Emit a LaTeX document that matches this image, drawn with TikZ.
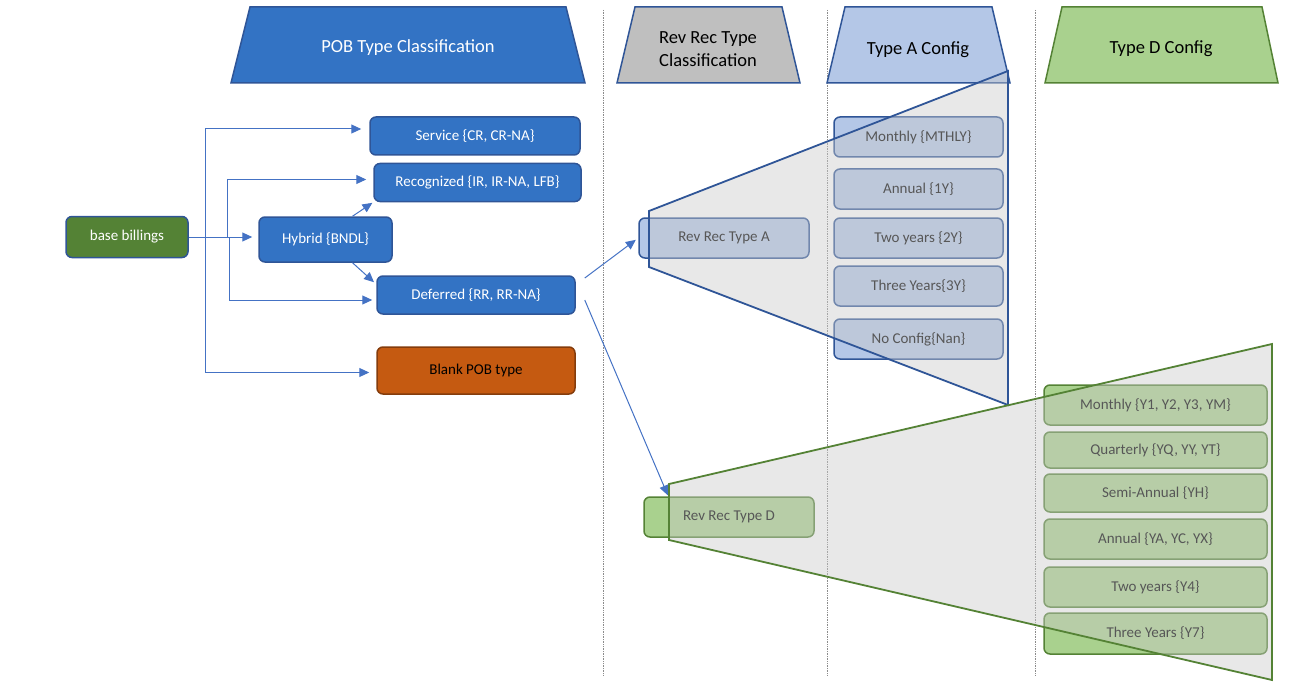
\documentclass[tikz,border=0pt]{standalone}
\usepackage{fontspec}
\setmainfont{Carlito}
\usetikzlibrary{
    arrows.meta,
    positioning,
    calc
}

\definecolor{pobblue}{RGB}{51,115,196}
\definecolor{pobedge}{RGB}{47,85,151}
\definecolor{linkblue}{RGB}{68,114,196}
\definecolor{cfgblue}{RGB}{180,199,231}
\definecolor{cfggreen}{RGB}{169,209,142}
\definecolor{greenedge}{RGB}{84,130,53}
\definecolor{blankfill}{RGB}{197,90,17}
\definecolor{blankedge}{RGB}{132,60,12}
\definecolor{headgray}{RGB}{191,191,191}
\definecolor{zoomgray}{RGB}{202,202,202}

\begin{document}
\begin{tikzpicture}[
    x=1pt, y=-1pt,
    box/.style={
      draw,
      rounded corners=6pt,
      line width=1.5pt,
      inner sep=0pt,
      align=center,
      font=\fontsize{15}{18}\selectfont
    },
    pobbox/.style={box, fill=pobblue, draw=pobedge, text=white},
    cfga/.style={box, fill=cfgblue, draw=pobedge,
      minimum width=169pt, minimum height=40pt},
    cfgd/.style={box, fill=cfggreen, draw=greenedge,
      minimum width=223pt, minimum height=40pt},
    header/.style={draw=pobedge, line width=1.5pt},
    headtext/.style={align=center, font=\fontsize{18.5}{23}\selectfont},
    link/.style={
      draw=linkblue,
      line width=1pt,
      -{Triangle[length=10pt,width=9pt]}
    },
    zoom/.style={line width=1.8pt, fill=zoomgray, fill opacity=0.43},
    sep/.style={densely dotted, black!45, line width=0.7pt}
  ]

  \useasboundingbox (0,0) rectangle (1296,698);

  % column separators {{{
  \draw[sep] (603,10) -- (603,676);
  \draw[sep] (827,10) -- (827,676);
  \draw[sep] (1035,10) -- (1035,676);
  % }}}

  % headers {{{
  \draw[header, fill=pobblue] (250,7) -- (566,7) -- (585,83) -- (231,83) -- cycle;
  \node[headtext, text=white] (pobhead) at (408,48) {POB Type Classification};

  \draw[header, fill=headgray] (635,7) -- (782,7) -- (800,83) -- (617,83) -- cycle;
  \node[headtext] (revhead) at (708,49) {Rev Rec Type\\Classification};

  \draw[header, fill=cfgblue] (845,7) -- (992,7) -- (1010,83) -- (827,83) -- cycle;
  \node[headtext] (ahead) at (918,50) {Type A Config};

  \draw[header, draw=greenedge, fill=cfggreen]
    (1062,7) -- (1262,7) -- (1278,83) -- (1045,83) -- cycle;
  \node[headtext] (dhead) at (1161,49) {Type D Config};
  % }}}

  % POB types {{{
  \node[
    box,
    fill=greenedge,
    draw=pobedge,
    text=white,
    minimum width=122pt,
    minimum height=41pt
  ] (base) at (127,237) {base billings};

  \node[pobbox, minimum width=133pt, minimum height=45pt]
    (hybrid) at (325.5,239.5) {Hybrid {\{}BNDL{\}}};
  \node[pobbox, minimum width=210pt, minimum height=38pt]
    (service) at (475,136) {Service {\{}CR, CR-NA{\}}};
  \node[pobbox, minimum width=207pt, minimum height=38pt]
    (recog) at (477.5,182.5) {Recognized {\{}IR, IR-NA, LFB{\}}};
  \node[pobbox, minimum width=198pt, minimum height=38pt]
    (deferred) at (476,295) {Deferred {\{}RR, RR-NA{\}}};
  \node[
    box,
    fill=blankfill,
    draw=blankedge,
    minimum width=198pt,
    minimum height=47pt
  ] (blank) at (476,370.5) {Blank POB type};
  % }}}

  % rev rec types {{{
  \node[cfga, minimum width=170pt] (reva) at (724,238) {Rev Rec Type A};
  \node[cfgd, minimum width=170pt] (revd) at (729,517) {Rev Rec Type D};
  % }}}

  % type A config {{{
  \node[cfga] (amonthly) at (918.5,137) {Monthly {\{}MTHLY{\}}};
  \node[cfga] (aannual) at (918.5,189) {Annual {\{}1Y{\}}};
  \node[cfga] (atwo) at (918.5,238) {Two years {\{}2Y{\}}};
  \node[cfga] (athree) at (918.5,286) {Three Years{\{}3Y{\}}};
  \node[cfga] (anone) at (918.5,339) {No Config{\{}Nan{\}}};
  % }}}

  % type D config {{{
  \node[cfgd] (dmonthly) at (1155.5,405) {Monthly {\{}Y1, Y2, Y3, YM{\}}};
  \node[cfgd, minimum height=36pt] (dquarter) at (1155.5,450)
    {Quarterly {\{}YQ, YY, YT{\}}};
  \node[cfgd, minimum height=38pt] (dsemi) at (1155.5,493)
    {Semi-Annual {\{}YH{\}}};
  \node[cfgd] (dannual) at (1155.5,539) {Annual {\{}YA, YC, YX{\}}};
  \node[cfgd] (dtwo) at (1155.5,587) {Two years {\{}Y4{\}}};
  \node[cfgd, minimum height=41pt] (dthree) at (1155.5,633.5)
    {Three Years {\{}Y7{\}}};
  % }}}

  % connectors {{{
  \draw[link, shorten >=6pt] (base.east) -- (base.east -| hybrid.west);
  \draw[link, shorten >=8pt] (base.east) -- ++(17,0)
    |- ([yshift=7pt]service.west);
  \draw[link, shorten >=7pt] (base.east) -- ++(39,0)
    |- ([yshift=3pt]recog.west);
  \draw[link, shorten >=4pt] (base.east) -- ++(41,0)
    |- ([yshift=-5pt]deferred.west);
  \draw[link, shorten >=7pt] (base.east) -- ++(17,0)
    |- ([yshift=-2pt]blank.west);

  \draw[link, shorten >=1pt] ([xshift=27pt]hybrid.north) -- (recog.south west);
  \draw[link, shorten >=3pt] ([xshift=27pt]hybrid.south)
    -- ([yshift=-9pt]deferred.north west);

  \draw[link, shorten >=3pt] ([xshift=9pt,yshift=17pt]deferred.east) -- (reva.west);
  \draw[link, shorten >=1pt] ([xshift=9pt,yshift=-5pt]deferred.east)
    -- ([xshift=25pt]revd.north west);
  % }}}

  % zoom callouts {{{
  \draw[zoom, draw=pobedge]
    (649,211) -- (1008,71) -- (1008,405) -- (649,267) -- cycle;
  \draw[zoom, draw=greenedge]
    (669,484) -- (1272,344) -- (1272,680) -- (669,540) -- cycle;
  % }}}

\end{tikzpicture}
\end{document}
